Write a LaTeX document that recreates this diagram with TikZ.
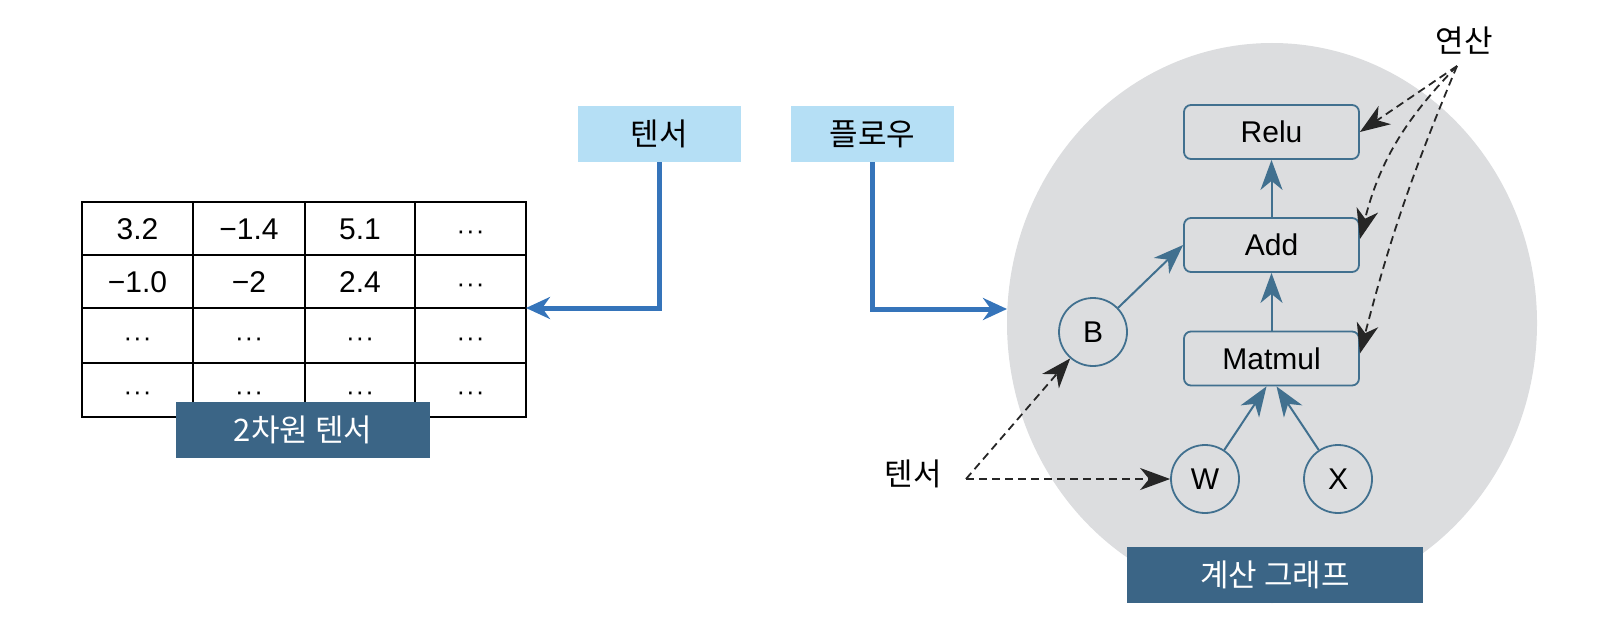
\documentclass[tikz,border=0pt]{standalone}
\usepackage{fontspec}
\setmainfont{Liberation Sans}
\newfontfamily\kr{Noto Sans CJK KR}
\usetikzlibrary{arrows.meta,shapes.geometric}
\definecolor{lightbox}{HTML}{B5DFF5}
\definecolor{darkbox}{HTML}{3B6586}
\definecolor{graybg}{HTML}{DCDDDF}
\definecolor{nodeline}{HTML}{41708F}
\definecolor{flowblue}{HTML}{3574BA}
\newcommand{\mydots}{{\fontsize{26}{30}\selectfont ·\kern1pt·\kern1pt·}}
\tikzset{
  celltext/.style={font=\fontsize{30}{36}\selectfont, inner sep=0pt, text height=21.5pt, text depth=0pt},
  lightlabel/.style={fill=lightbox, minimum width=163pt, minimum height=56pt, inner sep=0pt, font=\kr\fontsize{31}{36}\selectfont},
  darklabel/.style={fill=darkbox, text=white, minimum height=56pt, inner sep=0pt, font=\kr\fontsize{31}{36}\selectfont},
  opbox/.style={draw=nodeline, line width=1.8pt, fill=graybg, rounded corners=7pt, minimum width=175pt, minimum height=54pt, inner sep=0pt, font=\fontsize{30}{36}\selectfont},
  tensnode/.style={circle, draw=nodeline, line width=1.8pt, fill=graybg, minimum size=68pt, inner sep=0pt, font=\fontsize{30}{36}\selectfont},
  flowarrow/.style={draw=flowblue, line width=5pt, -{Stealth[length=24pt, width=22pt]}},
  edgearrow/.style={draw=nodeline, line width=2pt, -{Stealth[length=30pt, width=22pt, inset=9pt]}},
  dasharrow/.style={draw=black!85, line width=1.8pt, dash pattern=on 8pt off 5pt, -{Stealth[length=30pt, width=22pt, inset=9pt]}},
  krtext/.style={font=\kr\fontsize{31}{36}\selectfont, inner sep=0pt},
}
\begin{document}
\begin{tikzpicture}[x=1pt, y=-1pt]
\useasboundingbox (0,0) rectangle (1598,626);

% computation graph background
\fill[graybg] (1272,323) ellipse [x radius=265pt, y radius=280pt];

% 2D tensor table
\draw[line width=1.6pt] (82,202) rectangle (526,417);
\foreach \xx in {193,305,415} \draw[line width=1.6pt] (\xx,202) -- (\xx,417);
\foreach \yy in {255,308,363} \draw[line width=1.6pt] (82,\yy) -- (526,\yy);
\node[celltext] (c11) at (137.5,228.5) {3.2};
\node[celltext] (c12) at (249,228.5) {−1.4};
\node[celltext] (c13) at (360,228.5) {5.1};
\node[celltext] (c14) at (470.5,228.5) {\mydots};
\node[celltext] (c21) at (137.5,281.5) {−1.0};
\node[celltext] (c22) at (249,281.5) {−2};
\node[celltext] (c23) at (360,281.5) {2.4};
\node[celltext] (c24) at (470.5,281.5) {\mydots};
\node[celltext] (c31) at (137.5,335.5) {\mydots};
\node[celltext] (c32) at (249,335.5) {\mydots};
\node[celltext] (c33) at (360,335.5) {\mydots};
\node[celltext] (c34) at (470.5,335.5) {\mydots};
\node[celltext] (c41) at (137.5,390) {\mydots};
\node[celltext] (c42) at (249,390) {\mydots};
\node[celltext] (c43) at (360,390) {\mydots};
\node[celltext] (c44) at (470.5,390) {\mydots};
\coordinate (tblE) at (526,308);
\node[darklabel, minimum width=254pt] (tbllabel) at (303,430) {2차원 텐서};

% top labels
\node[lightlabel] (ten) at (659.5,134) {텐서};
\node[lightlabel] (flow) at (872.5,134) {플로우};
\coordinate (graphW) at (1007,309);
\draw[flowarrow] (ten.south) |- (tblE);
\draw[flowarrow] (flow.south) |- (graphW);

% graph nodes
\node[opbox] (relu) at (1271.5,132) {Relu};
\node[opbox] (add) at (1271.5,245) {Add};
\node[opbox] (matmul) at (1271.5,358.5) {Matmul};
\node[tensnode] (B) at (1093,332) {B};
\node[tensnode] (W) at (1205,479) {W};
\node[tensnode] (X) at (1338,479) {X};
\draw[edgearrow] (add) -- (relu);
\draw[edgearrow] (matmul) -- (add);
\draw[edgearrow] (B) -- (add.west);
\draw[edgearrow] (W) -- ([xshift=-5pt]matmul.south);
\draw[edgearrow] (X) -- ([xshift=5pt]matmul.south);

\node[darklabel, minimum width=296pt] (graphlabel) at (1275,574.5) {계산 그래프};

% annotations
\node[krtext] (ops) at (1464,41) {연산};
\coordinate (opsS) at (1457,66);
\draw[dasharrow] (opsS) -- (relu.east);
\draw[dasharrow] (opsS) to[bend right=15] ([yshift=6pt]add.east);
\draw[dasharrow] (opsS) to[bend right=4] ([yshift=5pt]matmul.east);

\node[krtext] (tens) at (913,474) {텐서};
\coordinate (tensE) at (966,479);
\draw[dasharrow] (tensE) -- (W);
\draw[dasharrow] (tensE) -- (B);
\end{tikzpicture}
\end{document}
